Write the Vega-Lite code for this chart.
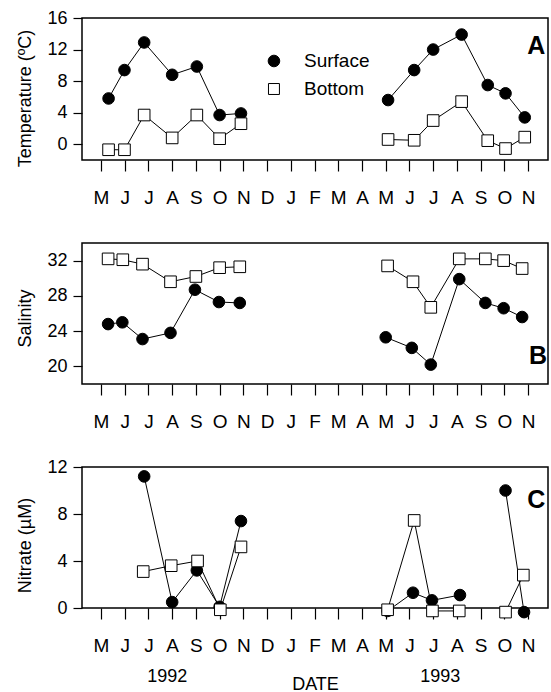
{
  "$schema": "https://vega.github.io/schema/vega-lite/v6.json",
  "padding": {"left": 16, "top": 8, "right": 0, "bottom": 0},
  "background": "white",
  "datasets": {
    "temperature": [
      {"month": 0.32, "series": "Surface", "seg": "s92", "value": 5.8},
      {"month": 0.99, "series": "Surface", "seg": "s92", "value": 9.4},
      {"month": 1.82, "series": "Surface", "seg": "s92", "value": 12.9},
      {"month": 3.0, "series": "Surface", "seg": "s92", "value": 8.8},
      {"month": 4.04, "series": "Surface", "seg": "s92", "value": 9.85},
      {"month": 5.0, "series": "Surface", "seg": "s92", "value": 3.7},
      {"month": 5.9, "series": "Surface", "seg": "s92", "value": 3.9},
      {"month": 12.1, "series": "Surface", "seg": "s93", "value": 5.6},
      {"month": 13.2, "series": "Surface", "seg": "s93", "value": 9.4},
      {"month": 14.0, "series": "Surface", "seg": "s93", "value": 12.0},
      {"month": 15.2, "series": "Surface", "seg": "s93", "value": 13.9},
      {"month": 16.3, "series": "Surface", "seg": "s93", "value": 7.5},
      {"month": 17.05, "series": "Surface", "seg": "s93", "value": 6.45},
      {"month": 17.86, "series": "Surface", "seg": "s93", "value": 3.4},
      {"month": 0.32, "series": "Bottom", "seg": "b92", "value": -0.7},
      {"month": 0.99, "series": "Bottom", "seg": "b92", "value": -0.7},
      {"month": 1.82, "series": "Bottom", "seg": "b92", "value": 3.7},
      {"month": 3.0, "series": "Bottom", "seg": "b92", "value": 0.8},
      {"month": 4.04, "series": "Bottom", "seg": "b92", "value": 3.7},
      {"month": 5.0, "series": "Bottom", "seg": "b92", "value": 0.7},
      {"month": 5.9, "series": "Bottom", "seg": "b92", "value": 2.6},
      {"month": 12.1, "series": "Bottom", "seg": "b93", "value": 0.6},
      {"month": 13.2, "series": "Bottom", "seg": "b93", "value": 0.5},
      {"month": 14.0, "series": "Bottom", "seg": "b93", "value": 3.0},
      {"month": 15.2, "series": "Bottom", "seg": "b93", "value": 5.4},
      {"month": 16.3, "series": "Bottom", "seg": "b93", "value": 0.45},
      {"month": 17.05, "series": "Bottom", "seg": "b93", "value": -0.55},
      {"month": 17.86, "series": "Bottom", "seg": "b93", "value": 0.9}
    ],
    "salinity": [
      {"month": 0.3, "series": "Surface", "seg": "s92", "value": 24.8},
      {"month": 0.9, "series": "Surface", "seg": "s92", "value": 25.0},
      {"month": 1.75, "series": "Surface", "seg": "s92", "value": 23.1},
      {"month": 2.93, "series": "Surface", "seg": "s92", "value": 23.8},
      {"month": 3.96, "series": "Surface", "seg": "s92", "value": 28.7},
      {"month": 4.97, "series": "Surface", "seg": "s92", "value": 27.3},
      {"month": 5.85, "series": "Surface", "seg": "s92", "value": 27.2},
      {"month": 12.0, "series": "Surface", "seg": "s93", "value": 23.3},
      {"month": 13.1, "series": "Surface", "seg": "s93", "value": 22.1},
      {"month": 13.9, "series": "Surface", "seg": "s93", "value": 20.2},
      {"month": 15.1, "series": "Surface", "seg": "s93", "value": 29.9},
      {"month": 16.2, "series": "Surface", "seg": "s93", "value": 27.2},
      {"month": 16.97, "series": "Surface", "seg": "s93", "value": 26.6},
      {"month": 17.75, "series": "Surface", "seg": "s93", "value": 25.6},
      {"month": 0.3, "series": "Bottom", "seg": "b92", "value": 32.2},
      {"month": 0.92, "series": "Bottom", "seg": "b92", "value": 32.1},
      {"month": 1.75, "series": "Bottom", "seg": "b92", "value": 31.6},
      {"month": 2.93, "series": "Bottom", "seg": "b92", "value": 29.6},
      {"month": 4.0, "series": "Bottom", "seg": "b92", "value": 30.2},
      {"month": 5.0, "series": "Bottom", "seg": "b92", "value": 31.2},
      {"month": 5.85, "series": "Bottom", "seg": "b92", "value": 31.3},
      {"month": 12.08, "series": "Bottom", "seg": "b93", "value": 31.4},
      {"month": 13.15, "series": "Bottom", "seg": "b93", "value": 29.6},
      {"month": 13.9, "series": "Bottom", "seg": "b93", "value": 26.7},
      {"month": 15.1, "series": "Bottom", "seg": "b93", "value": 32.2},
      {"month": 16.2, "series": "Bottom", "seg": "b93", "value": 32.2},
      {"month": 16.97, "series": "Bottom", "seg": "b93", "value": 32.0},
      {"month": 17.75, "series": "Bottom", "seg": "b93", "value": 31.1}
    ],
    "nitrate": [
      {"month": 1.82, "series": "Surface", "seg": "s92", "value": 11.2},
      {"month": 3.0, "series": "Surface", "seg": "s92", "value": 0.5},
      {"month": 4.04, "series": "Surface", "seg": "s92", "value": 3.2},
      {"month": 5.0, "series": "Surface", "seg": "s92", "value": 0.1},
      {"month": 5.9, "series": "Surface", "seg": "s92", "value": 7.4},
      {"month": 12.08, "series": "Surface", "seg": "s93a", "value": -0.25},
      {"month": 13.15, "series": "Surface", "seg": "s93a", "value": 1.3},
      {"month": 13.95, "series": "Surface", "seg": "s93a", "value": 0.65},
      {"month": 15.13, "series": "Surface", "seg": "s93a", "value": 1.1},
      {"month": 17.05, "series": "Surface", "seg": "s93b", "value": 10.0},
      {"month": 17.83, "series": "Surface", "seg": "s93b", "value": -0.35},
      {"month": 1.78, "series": "Bottom", "seg": "b92", "value": 3.1},
      {"month": 2.96, "series": "Bottom", "seg": "b92", "value": 3.6},
      {"month": 4.07, "series": "Bottom", "seg": "b92", "value": 4.0},
      {"month": 5.03, "series": "Bottom", "seg": "b92", "value": -0.15},
      {"month": 5.9, "series": "Bottom", "seg": "b92", "value": 5.2},
      {"month": 12.08, "series": "Bottom", "seg": "b93a", "value": -0.15},
      {"month": 13.2, "series": "Bottom", "seg": "b93a", "value": 7.45},
      {"month": 13.97, "series": "Bottom", "seg": "b93a", "value": -0.25},
      {"month": 15.1, "series": "Bottom", "seg": "b93a", "value": -0.25},
      {"month": 17.05, "series": "Bottom", "seg": "b93b", "value": -0.35},
      {"month": 17.8, "series": "Bottom", "seg": "b93b", "value": 2.8}
    ]
  },
  "bounds": "flush",
  "spacing": 83,
  "vconcat": [
    {
      "width": 466,
      "height": 142,
      "data": {"name": "temperature"},
      "layer": [
        {"mark": {"type": "line", "color": "black", "strokeWidth": 1},
         "encoding": {
           "x": {"field": "month", "type": "quantitative",
                 "scale": {"domain": [-0.8, 18.84], "nice": false, "zero": false},
                 "axis": {"title": null, "values": [0,1,2,3,4,5,6,7,8,9,10,11,12,13,14,15,16,17,18],
                          "labelExpr": "['M','J','J','A','S','O','N','D','J','F','M','A','M','J','J','A','S','O','N'][datum.value]"}},
           "y": {"field": "value", "type": "quantitative",
                 "scale": {"domain": [-2, 16], "nice": false, "zero": false},
                 "axis": {"title": "Temperature (ºC)", "values": [0, 4, 8, 12, 16], "titleY": 80}},
           "detail": {"field": "seg"}}},
        {"mark": {"type": "point", "stroke": "black", "strokeWidth": 1, "size": 135, "opacity": 1},
         "encoding": {
           "x": {"field": "month", "type": "quantitative",
                 "scale": {"domain": [-0.8, 18.84], "nice": false, "zero": false},
                 "axis": {"title": null, "values": [0,1,2,3,4,5,6,7,8,9,10,11,12,13,14,15,16,17,18],
                          "labelExpr": "['M','J','J','A','S','O','N','D','J','F','M','A','M','J','J','A','S','O','N'][datum.value]"}},
           "y": {"field": "value", "type": "quantitative",
                 "scale": {"domain": [-2, 16], "nice": false, "zero": false},
                 "axis": {"title": "Temperature (ºC)", "values": [0, 4, 8, 12, 16], "titleY": 80}},
           "shape": {"field": "series", "type": "nominal",
                     "scale": {"domain": ["Surface", "Bottom"], "range": ["circle", "square"]}, "legend": null},
           "fill": {"field": "series", "type": "nominal",
                    "scale": {"domain": ["Surface", "Bottom"], "range": ["black", "white"]}, "legend": null}
         }},
        {"data": {"values": [{"series": "Surface"}]},
         "mark": {"type": "point", "shape": "circle", "fill": "black", "stroke": "black", "strokeWidth": 1, "size": 135, "opacity": 1},
         "encoding": {
           "x": {"datum": 7.29, "type": "quantitative",
                 "scale": {"domain": [-0.8, 18.84], "nice": false, "zero": false},
                 "axis": {"title": null, "values": [0,1,2,3,4,5,6,7,8,9,10,11,12,13,14,15,16,17,18],
                          "labelExpr": "['M','J','J','A','S','O','N','D','J','F','M','A','M','J','J','A','S','O','N'][datum.value]"}},
           "y": {"datum": 10.55, "type": "quantitative",
                 "scale": {"domain": [-2, 16], "nice": false, "zero": false},
                 "axis": {"title": "Temperature (ºC)", "values": [0, 4, 8, 12, 16], "titleY": 80}}}},
        {"data": {"values": [{"series": "Bottom"}]},
         "mark": {"type": "point", "shape": "square", "fill": "white", "stroke": "black", "strokeWidth": 1, "size": 120, "opacity": 1},
         "encoding": {
           "x": {"datum": 7.29, "type": "quantitative",
                 "scale": {"domain": [-0.8, 18.84], "nice": false, "zero": false},
                 "axis": {"title": null, "values": [0,1,2,3,4,5,6,7,8,9,10,11,12,13,14,15,16,17,18],
                          "labelExpr": "['M','J','J','A','S','O','N','D','J','F','M','A','M','J','J','A','S','O','N'][datum.value]"}},
           "y": {"datum": 7.0, "type": "quantitative",
                 "scale": {"domain": [-2, 16], "nice": false, "zero": false},
                 "axis": {"title": "Temperature (ºC)", "values": [0, 4, 8, 12, 16], "titleY": 80}}}},
        {"data": {"values": [{"series": "Surface"}]},
         "mark": {"type": "text", "fontSize": 19, "font": "Liberation Sans", "align": "left", "baseline": "middle"},
         "encoding": {
           "x": {"datum": 8.555, "type": "quantitative",
                 "scale": {"domain": [-0.8, 18.84], "nice": false, "zero": false},
                 "axis": {"title": null, "values": [0,1,2,3,4,5,6,7,8,9,10,11,12,13,14,15,16,17,18],
                          "labelExpr": "['M','J','J','A','S','O','N','D','J','F','M','A','M','J','J','A','S','O','N'][datum.value]"}},
           "y": {"datum": 10.55, "type": "quantitative",
                 "scale": {"domain": [-2, 16], "nice": false, "zero": false},
                 "axis": {"title": "Temperature (ºC)", "values": [0, 4, 8, 12, 16], "titleY": 80}},
           "text": {"field": "series"}}},
        {"data": {"values": [{"series": "Bottom"}]},
         "mark": {"type": "text", "fontSize": 19, "font": "Liberation Sans", "align": "left", "baseline": "middle"},
         "encoding": {
           "x": {"datum": 8.555, "type": "quantitative",
                 "scale": {"domain": [-0.8, 18.84], "nice": false, "zero": false},
                 "axis": {"title": null, "values": [0,1,2,3,4,5,6,7,8,9,10,11,12,13,14,15,16,17,18],
                          "labelExpr": "['M','J','J','A','S','O','N','D','J','F','M','A','M','J','J','A','S','O','N'][datum.value]"}},
           "y": {"datum": 7.0, "type": "quantitative",
                 "scale": {"domain": [-2, 16], "nice": false, "zero": false},
                 "axis": {"title": "Temperature (ºC)", "values": [0, 4, 8, 12, 16], "titleY": 80}},
           "text": {"field": "series"}}},
        {"data": {"values": [{"label": "A"}]},
         "mark": {"type": "text", "fontSize": 25, "fontWeight": "bold", "font": "Liberation Sans", "align": "center", "baseline": "middle"},
         "encoding": {
           "x": {"datum": 18.35, "type": "quantitative",
                 "scale": {"domain": [-0.8, 18.84], "nice": false, "zero": false},
                 "axis": {"title": null, "values": [0,1,2,3,4,5,6,7,8,9,10,11,12,13,14,15,16,17,18],
                          "labelExpr": "['M','J','J','A','S','O','N','D','J','F','M','A','M','J','J','A','S','O','N'][datum.value]"}},
           "y": {"datum": 12.4, "type": "quantitative",
                 "scale": {"domain": [-2, 16], "nice": false, "zero": false},
                 "axis": {"title": "Temperature (ºC)", "values": [0, 4, 8, 12, 16], "titleY": 80}},
           "text": {"field": "label"}}}
      ]
    },
    {
      "width": 466,
      "height": 141,
      "data": {"name": "salinity"},
      "layer": [
        {"mark": {"type": "line", "color": "black", "strokeWidth": 1},
         "encoding": {
           "x": {"field": "month", "type": "quantitative",
                 "scale": {"domain": [-0.8, 18.84], "nice": false, "zero": false},
                 "axis": {"title": null, "values": [0,1,2,3,4,5,6,7,8,9,10,11,12,13,14,15,16,17,18],
                          "labelExpr": "['M','J','J','A','S','O','N','D','J','F','M','A','M','J','J','A','S','O','N'][datum.value]"}},
           "y": {"field": "value", "type": "quantitative",
                 "scale": {"domain": [18, 34], "nice": false, "zero": false},
                 "axis": {"title": "Salinity", "values": [20, 24, 28, 32], "titleY": 75}},
           "detail": {"field": "seg"}}},
        {"mark": {"type": "point", "stroke": "black", "strokeWidth": 1, "size": 135, "opacity": 1},
         "encoding": {
           "x": {"field": "month", "type": "quantitative",
                 "scale": {"domain": [-0.8, 18.84], "nice": false, "zero": false},
                 "axis": {"title": null, "values": [0,1,2,3,4,5,6,7,8,9,10,11,12,13,14,15,16,17,18],
                          "labelExpr": "['M','J','J','A','S','O','N','D','J','F','M','A','M','J','J','A','S','O','N'][datum.value]"}},
           "y": {"field": "value", "type": "quantitative",
                 "scale": {"domain": [18, 34], "nice": false, "zero": false},
                 "axis": {"title": "Salinity", "values": [20, 24, 28, 32], "titleY": 75}},
           "shape": {"field": "series", "type": "nominal",
                     "scale": {"domain": ["Surface", "Bottom"], "range": ["circle", "square"]}, "legend": null},
           "fill": {"field": "series", "type": "nominal",
                    "scale": {"domain": ["Surface", "Bottom"], "range": ["black", "white"]}, "legend": null}
         }},
        {"data": {"values": [{"label": "B"}]},
         "mark": {"type": "text", "fontSize": 25, "fontWeight": "bold", "font": "Liberation Sans", "align": "center", "baseline": "middle"},
         "encoding": {
           "x": {"datum": 18.42, "type": "quantitative",
                 "scale": {"domain": [-0.8, 18.84], "nice": false, "zero": false},
                 "axis": {"title": null, "values": [0,1,2,3,4,5,6,7,8,9,10,11,12,13,14,15,16,17,18],
                          "labelExpr": "['M','J','J','A','S','O','N','D','J','F','M','A','M','J','J','A','S','O','N'][datum.value]"}},
           "y": {"datum": 21.2, "type": "quantitative",
                 "scale": {"domain": [18, 34], "nice": false, "zero": false},
                 "axis": {"title": "Salinity", "values": [20, 24, 28, 32], "titleY": 75}},
           "text": {"field": "label"}}}
      ]
    },
    {
      "width": 466,
      "height": 141,
      "data": {"name": "nitrate"},
      "layer": [
        {"mark": {"type": "line", "color": "black", "strokeWidth": 1},
         "encoding": {
           "x": {"field": "month", "type": "quantitative",
                 "scale": {"domain": [-0.8, 18.84], "nice": false, "zero": false},
                 "axis": {"title": "DATE", "titlePadding": 20, "values": [0,1,2,3,4,5,6,7,8,9,10,11,12,13,14,15,16,17,18],
                          "labelExpr": "['M','J','J','A','S','O','N','D','J','F','M','A','M','J','J','A','S','O','N'][datum.value]"}},
           "y": {"field": "value", "type": "quantitative",
                 "scale": {"domain": [0, 12], "nice": false, "zero": false},
                 "axis": {"title": "Nitrate (µM)", "values": [0, 4, 8, 12], "titleY": 78}},
           "detail": {"field": "seg"}}},
        {"mark": {"type": "point", "stroke": "black", "strokeWidth": 1, "size": 135, "opacity": 1},
         "encoding": {
           "x": {"field": "month", "type": "quantitative",
                 "scale": {"domain": [-0.8, 18.84], "nice": false, "zero": false},
                 "axis": {"title": "DATE", "titlePadding": 20, "values": [0,1,2,3,4,5,6,7,8,9,10,11,12,13,14,15,16,17,18],
                          "labelExpr": "['M','J','J','A','S','O','N','D','J','F','M','A','M','J','J','A','S','O','N'][datum.value]"}},
           "y": {"field": "value", "type": "quantitative",
                 "scale": {"domain": [0, 12], "nice": false, "zero": false},
                 "axis": {"title": "Nitrate (µM)", "values": [0, 4, 8, 12], "titleY": 78}},
           "shape": {"field": "series", "type": "nominal",
                     "scale": {"domain": ["Surface", "Bottom"], "range": ["circle", "square"]}, "legend": null},
           "fill": {"field": "series", "type": "nominal",
                    "scale": {"domain": ["Surface", "Bottom"], "range": ["black", "white"]}, "legend": null}
         }},
        {"data": {"values": [{"label": "C"}]},
         "mark": {"type": "text", "fontSize": 25, "fontWeight": "bold", "font": "Liberation Sans", "align": "center", "baseline": "middle"},
         "encoding": {
           "x": {"datum": 18.35, "type": "quantitative",
                 "scale": {"domain": [-0.8, 18.84], "nice": false, "zero": false},
                 "axis": {"title": "DATE", "titlePadding": 20, "values": [0,1,2,3,4,5,6,7,8,9,10,11,12,13,14,15,16,17,18],
                          "labelExpr": "['M','J','J','A','S','O','N','D','J','F','M','A','M','J','J','A','S','O','N'][datum.value]"}},
           "y": {"datum": 9.2, "type": "quantitative",
                 "scale": {"domain": [0, 12], "nice": false, "zero": false},
                 "axis": {"title": "Nitrate (µM)", "values": [0, 4, 8, 12], "titleY": 78}},
           "text": {"field": "label"}}},
        {"data": {"values": [{"label": "1992", "pos": 2.79}, {"label": "1993", "pos": 14.3}]},
         "mark": {"type": "text", "fontSize": 18, "font": "Liberation Sans", "align": "center", "baseline": "middle"},
         "encoding": {
           "x": {"field": "pos", "type": "quantitative",
                 "scale": {"domain": [-0.8, 18.84], "nice": false, "zero": false},
                 "axis": {"title": "DATE", "titlePadding": 20, "values": [0,1,2,3,4,5,6,7,8,9,10,11,12,13,14,15,16,17,18],
                          "labelExpr": "['M','J','J','A','S','O','N','D','J','F','M','A','M','J','J','A','S','O','N'][datum.value]"}},
           "y": {"datum": -5.9, "type": "quantitative",
                 "scale": {"domain": [0, 12], "nice": false, "zero": false},
                 "axis": {"title": "Nitrate (µM)", "values": [0, 4, 8, 12], "titleY": 78}},
           "text": {"field": "label"}}}
      ]
    }
  ],
  "config": {
    "font": "Liberation Sans",
    "view": {"stroke": "black", "strokeWidth": 1.5},
    "axis": {
      "domain": false, "grid": false,
      "tickColor": "black", "tickWidth": 1.2,
      "labelColor": "black", "labelFont": "Liberation Sans",
      "titleColor": "black", "titleFont": "Liberation Sans", "titleFontWeight": "normal", "titleFontSize": 18
    },
    "axisX": {"tickSize": 11, "labelFontSize": 19, "labelPadding": 17, "labelFlush": false},
    "axisY": {"tickSize": 9, "labelFontSize": 18, "labelPadding": 6, "titlePadding": 12}
  }
}
